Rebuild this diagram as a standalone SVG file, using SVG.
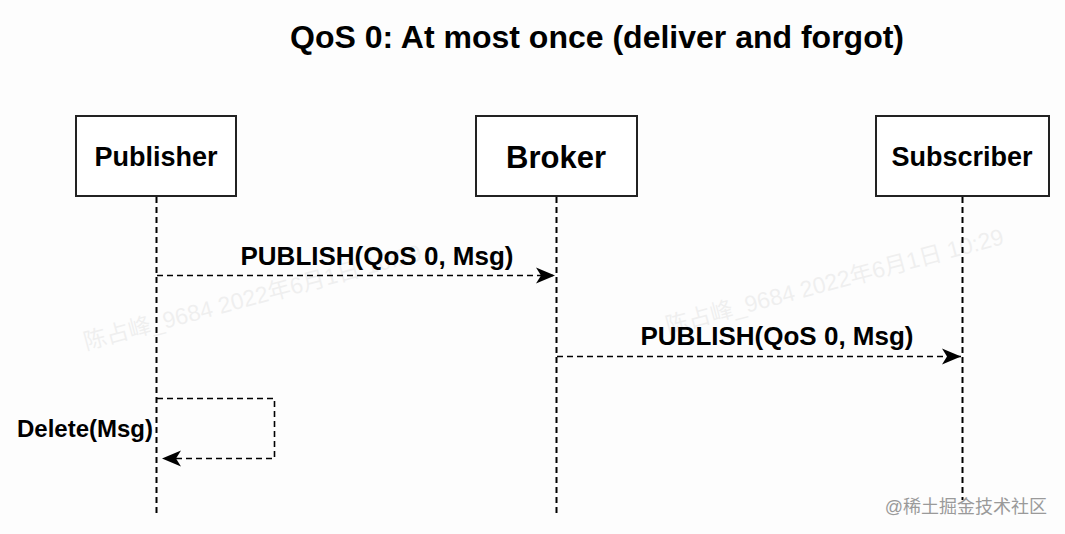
<svg xmlns="http://www.w3.org/2000/svg" width="1065" height="534" viewBox="0 0 1065 534">
<style>
.box{fill:#fff;stroke:#222;stroke-width:2}
.lbl{font-family:"Liberation Sans",Arial,sans-serif;font-weight:bold;fill:#000}
.life{stroke:#000;stroke-width:2;stroke-dasharray:6 4;fill:none}
.msg{stroke:#000;stroke-width:1.6;stroke-dasharray:6 4;fill:none}
.wm{font-family:"Liberation Sans","Noto Sans CJK SC",sans-serif;fill:#000;opacity:0.05;font-size:23px}
</style>
<defs>
<marker id="ah" markerUnits="userSpaceOnUse" markerWidth="22" markerHeight="20" viewBox="0 0 22 20" refX="19" refY="10" orient="auto">
<path d="M0,2 L19,10 L0,18 L5,10 Z" fill="#000"/>
</marker>
</defs>
<rect width="1065" height="534" fill="#fdfdfd"/>
<text class="lbl" x="597" y="48" text-anchor="middle" font-size="32">QoS 0: At most once (deliver and forgot)</text>
<g id="watermarks">
<text class="wm" transform="translate(86,350) rotate(-15)">陈占峰_9684 2022年6月1日 10:29</text>
<text class="wm" transform="translate(668,334) rotate(-15)">陈占峰_9684 2022年6月1日 10:29</text>
</g>
<g id="lifelines">
<line class="life" x1="156.5" y1="197" x2="156.5" y2="516"/>
<line class="life" x1="556.5" y1="197" x2="556.5" y2="516"/>
<line class="life" x1="962.5" y1="197" x2="962.5" y2="500"/>
</g>
<g id="publisher">
<rect class="box" x="76" y="116" width="160" height="80"/>
<text class="lbl" x="156" y="166" text-anchor="middle" font-size="27">Publisher</text>
</g>
<g id="broker">
<rect class="box" x="476" y="116" width="161" height="80"/>
<text class="lbl" x="556" y="168" text-anchor="middle" font-size="31">Broker</text>
</g>
<g id="subscriber">
<rect class="box" x="876" y="116" width="173" height="80"/>
<text class="lbl" x="962" y="166" text-anchor="middle" font-size="27">Subscriber</text>
</g>
<g id="connectors">
<line class="msg" x1="157" y1="275.5" x2="555" y2="275.5" marker-end="url(#ah)"/>
<text class="lbl" x="377" y="265" text-anchor="middle" font-size="26">PUBLISH(QoS 0, Msg)</text>
<line class="msg" x1="557" y1="356.5" x2="961" y2="356.5" marker-end="url(#ah)"/>
<text class="lbl" x="777" y="345" text-anchor="middle" font-size="26">PUBLISH(QoS 0, Msg)</text>
<path class="msg" d="M157,398.5 H274.5 V458.5 H162" marker-end="url(#ah)"/>
<text class="lbl" x="153" y="437" text-anchor="end" font-size="24">Delete(Msg)</text>
</g>
<text x="1047" y="513" text-anchor="end" font-family="'Liberation Sans','Noto Sans CJK SC',sans-serif" font-size="18" fill="#9a9a9a">@稀土掘金技术社区</text>
</svg>
